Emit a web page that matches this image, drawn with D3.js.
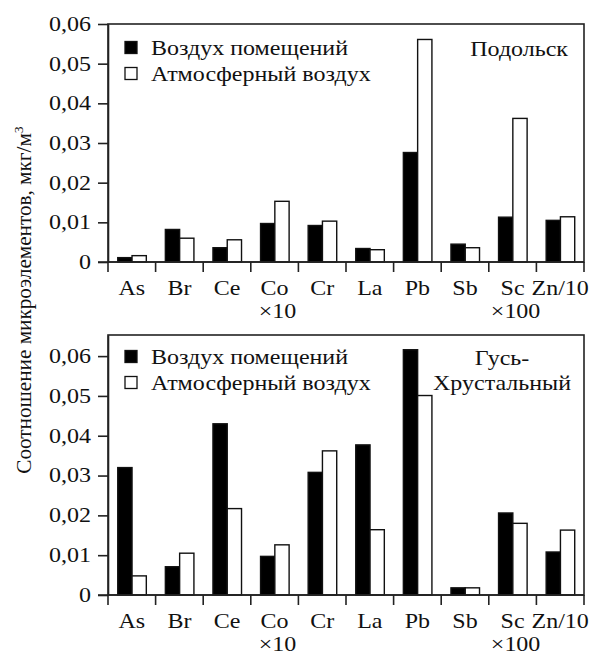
<!DOCTYPE html>
<html><head><meta charset="utf-8">
<script src="https://cdn.jsdelivr.net/npm/d3@7"></script>
<style>body{margin:0;background:#fff}svg{display:block}text{font-family:"Liberation Serif","Times New Roman",serif;fill:#111}</style>
</head><body><svg id="c" width="599" height="655"></svg>
<script>
const categories = ["As","Br","Ce","Co","Cr","La","Pb","Sb","Sc","Zn/10"];
const subLabels = ["","","","×10","","","","","×100",""];
const seriesNames = ["Воздух помещений","Атмосферный воздух"];
const podolskIndoor  = [0.0011,0.0082,0.0036,0.0097,0.0092,0.0034,0.0276,0.0045,0.0113,0.0105];
const podolskOutdoor = [0.0016,0.0060,0.0056,0.0153,0.0103,0.0031,0.0561,0.0036,0.0362,0.0114];
const gusIndoor  = [0.0320,0.0071,0.0430,0.0097,0.0308,0.0377,0.0616,0.0018,0.0206,0.0108];
const gusOutdoor = [0.0048,0.0105,0.0217,0.0126,0.0362,0.0164,0.0501,0.0018,0.0180,0.0163];
const yTicks = [0,0.01,0.02,0.03,0.04,0.05,0.06];
const yTitle = "Соотношение микроэлементов, мкг/м";

const svg = d3.select("#c");
const SX = 1.2, FS = 20;
const fmt = d => d === 0 ? "0" : d3.format(".2f")(d).replace(".", ",");

function stext(g, x, y, str, anchor) {
  return g.append("text")
    .attr("transform", `translate(${x},${y}) scale(${SX},1)`)
    .attr("text-anchor", anchor || "start")
    .attr("font-size", FS).text(str);
}

const x = d3.scaleBand().domain(categories).range([108, 584]).paddingInner(0).paddingOuter(0);

function panel(cfg) {
  const g = svg.append("g");
  const y = d3.scaleLinear().domain([0, cfg.yMax]).range([cfg.axisY, cfg.top]);
  const bw = x.bandwidth();
  const series = [cfg.indoor, cfg.outdoor];
  series.forEach((vals, si) => {
    g.selectAll(null).data(categories).enter().append("rect")
      .attr("x", d => x(d) + bw * 0.205 + si * bw * 0.3)
      .attr("width", bw * 0.3)
      .attr("y", (d, i) => y(vals[i]))
      .attr("height", (d, i) => cfg.axisY - y(vals[i]))
      .attr("fill", si === 0 ? "#000" : "#fff")
      .attr("stroke", "#111").attr("stroke-width", 1.4);
  });
  g.append("rect").attr("x", x.range()[0]).attr("y", cfg.top)
    .attr("width", x.range()[1] - x.range()[0]).attr("height", cfg.axisY - cfg.top)
    .attr("fill", "none").attr("stroke", "#222").attr("stroke-width", 1.6);
  const ya = g.append("g").attr("transform", `translate(${x.range()[0]},0)`)
    .call(d3.axisLeft(y).tickValues(yTicks).tickSize(10).tickSizeOuter(0).tickPadding(7).tickFormat(fmt));
  ya.attr("font-family", null);
  ya.select(".domain").attr("stroke", "#222").attr("stroke-width", 1.6);
  ya.selectAll(".tick line").attr("stroke", "#222").attr("stroke-width", 1.6);
  ya.selectAll(".tick text").attr("font-size", FS).attr("fill", "#111")
    .attr("x", -17 / SX).attr("transform", `scale(${SX},1)`);
  const bounds = categories.map(c => x(c)).concat([x.range()[1]]);
  g.selectAll(null).data(bounds).enter().append("line")
    .attr("x1", d => d).attr("x2", d => d)
    .attr("y1", cfg.axisY).attr("y2", cfg.axisY + 10)
    .attr("stroke", "#222").attr("stroke-width", 1.6);
  g.append("line").attr("x1", x.range()[0] - 10).attr("x2", x.range()[1])
    .attr("y1", cfg.axisY).attr("y2", cfg.axisY).attr("stroke", "#222").attr("stroke-width", 1.6);
  categories.forEach((c, i) => {
    stext(g, x(c) + bw / 2, cfg.axisY + 32.5, c, "middle");
    if (subLabels[i]) stext(g, x(c) + bw / 2 + 3, cfg.axisY + 55.5, subLabels[i], "middle");
  });
  cfg.legendY.forEach((cy, si) => {
    g.append("rect").attr("x", 125).attr("y", cy - 6.5).attr("width", 12).attr("height", 12)
      .attr("fill", si === 0 ? "#000" : "#fff").attr("stroke", "#111").attr("stroke-width", 1.3);
    stext(g, 151, cy + 7, seriesNames[si]);
  });
  cfg.title.forEach((t, k) => stext(g, cfg.titleX, cfg.titleY[k], t, cfg.titleAnchor));
}

panel({top: 24, axisY: 262, yMax: 0.06, indoor: podolskIndoor, outdoor: podolskOutdoor,
  legendY: [48, 74], title: ["Подольск"], titleX: 568, titleY: [56], titleAnchor: "end"});
panel({top: 335, axisY: 595, yMax: 0.0653, indoor: gusIndoor, outdoor: gusOutdoor,
  legendY: [357, 383], title: ["Гусь-", "Хрустальный"], titleX: 502, titleY: [365, 390], titleAnchor: "middle"});

const yt = svg.append("text")
  .attr("transform", `translate(31,300) rotate(-90) scale(1.06,1)`)
  .attr("text-anchor", "middle").attr("font-size", FS);
yt.append("tspan").text(yTitle);
yt.append("tspan").attr("font-size", 13).attr("dy", -8).text("3");
</script></body></html>
